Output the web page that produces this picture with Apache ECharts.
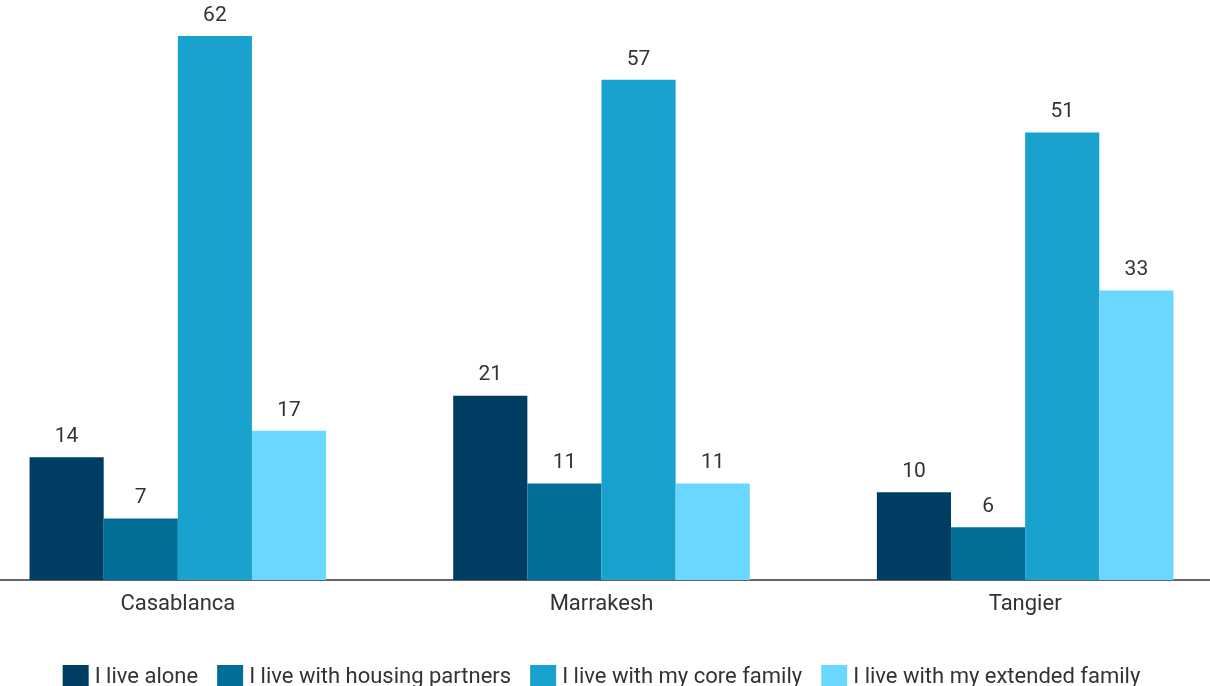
<!DOCTYPE html>
<html>
<head>
<meta charset="utf-8">
<script src="https://cdn.jsdelivr.net/npm/echarts@6/dist/echarts.min.js"></script>
<style>
  html, body { margin: 0; padding: 0; background: #fff; overflow: hidden; width: 1210px; height: 686px; position: relative; }
  #chart { position: absolute; left: -34px; top: 0; width: 1271px; height: 686px; }
</style>
</head>
<body>
<div id="chart"></div>
<script>
// Living situation by city (%)
const cities = ['Casablanca', 'Marrakesh', 'Tangier'];
const seriesNames = [
  'I live alone',
  'I live with housing partners',
  'I live with my core family',
  'I live with my extended family'
];
const alone = [14, 21, 10];
const housingPartners = [7, 11, 6];
const coreFamily = [62, 57, 51];
const extendedFamily = [17, 11, 33];
const palette = ['#003d63', '#006e97', '#1aa2cf', '#69d7ff'];

const values = [alone, housingPartners, coreFamily, extendedFamily];
const font = 'Roboto, "Noto Sans", sans-serif';

const chart = echarts.init(document.getElementById('chart'), null, { renderer: 'canvas' });
chart.setOption({
  animation: false,
  color: palette,
  grid: { left: 0, right: 0, top: 36, bottom: 106, containLabel: false },
  legend: {
    top: 660,
    left: 'center',
    itemWidth: 26,
    itemHeight: 25,
    itemGap: 19,
    icon: 'rect',
    textStyle: { fontFamily: font, fontSize: 22, color: '#333', padding: [0, 0, 0, 1] },
    data: seriesNames
  },
  xAxis: {
    type: 'category',
    data: cities,
    axisLine: { lineStyle: { color: '#333', width: 1.5 } },
    axisTick: { show: false },
    axisLabel: { fontFamily: font, fontSize: 22, color: '#333', margin: 13 }
  },
  yAxis: {
    type: 'value',
    min: 0,
    max: 62,
    show: false,
    splitLine: { show: false }
  },
  series: seriesNames.map((name, i) => ({
    name,
    type: 'bar',
    data: values[i],
    barGap: '0%',
    barCategoryGap: '30%',
    label: {
      show: true,
      position: 'top',
      distance: 10,
      fontFamily: font,
      fontSize: 21,
      color: '#333'
    }
  }))
});
</script>
</body>
</html>
